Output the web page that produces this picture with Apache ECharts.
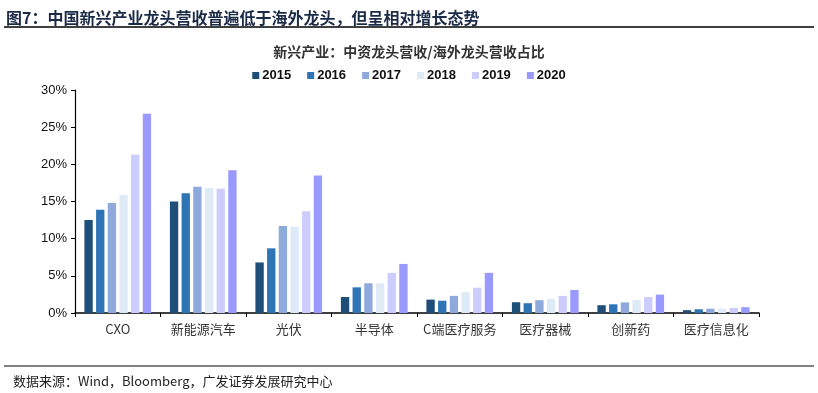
<!DOCTYPE html>
<html><head><meta charset="utf-8">
<script src="https://cdn.jsdelivr.net/npm/echarts@6/dist/echarts.min.js"></script>
<style>html,body{margin:0;padding:0;background:#fff}#c{width:818px;height:393px}</style>
</head><body><div id="c"></div>
<script>
const categories = ['CXO','新能源汽车','光伏','半导体','C端医疗服务','医疗器械','创新药','医疗信息化'];
const years = ['2015','2016','2017','2018','2019','2020'];
const v2015 = [12.5, 15.0, 6.8, 2.15, 1.8, 1.45, 1.05, 0.38];
const v2016 = [13.9, 16.1, 8.7, 3.45, 1.65, 1.32, 1.17, 0.5];
const v2017 = [14.8, 17.0, 11.7, 4.0, 2.3, 1.72, 1.43, 0.58];
const v2018 = [15.9, 16.8, 11.6, 4.0, 2.8, 1.9, 1.75, 0.58];
const v2019 = [21.3, 16.7, 13.7, 5.4, 3.4, 2.3, 2.15, 0.68];
const v2020 = [26.8, 19.2, 18.5, 6.6, 5.4, 3.1, 2.47, 0.78];
const yTicks = [0,5,10,15,20,25,30];
const seriesData = [v2015, v2016, v2017, v2018, v2019, v2020];
const colors = ['#1F4E79','#2E75B6','#8EA9DB','#DEEAF6','#CCCCFF','#9999FF'];

const chart = echarts.init(document.getElementById('c'));
chart.setOption({
  animation: false,
  color: colors,
  title: [
    { text: '图7：中国新兴产业龙头营收普遍低于海外龙头，但呈相对增长态势', left: 1, top: 5,
      textStyle: { fontFamily: 'Noto Sans CJK SC', fontWeight: 'bold', fontSize: 16, color: '#1B2A47' } },
    { text: '新兴产业：中资龙头营收/海外龙头营收占比', left: 'center', top: 40,
      textStyle: { fontFamily: 'Noto Sans CJK SC', fontWeight: 'bold', fontSize: 14, color: '#333' } },
    { text: '数据来源：Wind，Bloomberg，广发证券发展研究中心', left: 8, top: 370,
      textStyle: { fontFamily: 'Noto Sans CJK SC', fontWeight: 'normal', fontSize: 13, color: '#222' } }
  ],
  legend: {
    top: 64, left: 'center', itemWidth: 7, itemHeight: 7, itemGap: 16,
    icon: 'rect',
    textStyle: { fontFamily: 'Liberation Sans', fontWeight: 'bold', fontSize: 13, color: '#111', padding: [0,0,0,-2] },
    data: years
  },
  grid: { left: 75, right: 59, top: 90, bottom: 80, containLabel: false },
  xAxis: {
    type: 'category', data: categories,
    axisLine: { lineStyle: { color: '#000', width: 1.5 } },
    axisTick: { show: true, length: 4, lineStyle: { color: '#000' } },
    axisLabel: { interval: 0, margin: 10, fontFamily: 'Noto Sans CJK SC', fontSize: 13, color: '#333' },
    splitLine: { show: false }
  },
  yAxis: {
    type: 'value', min: 0, max: 30, interval: 5,
    axisLine: { show: true, lineStyle: { color: '#000', width: 1.2 } },
    axisTick: { show: true, length: 4, inside: false, lineStyle: { color: '#000' } },
    axisLabel: { margin: 8, fontFamily: 'Liberation Sans', fontSize: 13, color: '#111', formatter: v => v + '%' },
    splitLine: { show: false }
  },
  series: seriesData.map((d, i) => ({
    name: years[i], type: 'bar', data: d,
    barGap: '40%', barCategoryGap: '22%',
    itemStyle: { color: colors[i] }
  })),
  graphic: [
    { type: 'line', shape: { x1: 4, y1: 27, x2: 814, y2: 27 }, style: { stroke: '#000', lineWidth: 1.5 } },
    { type: 'line', shape: { x1: 4, y1: 366, x2: 814, y2: 366 }, style: { stroke: '#000', lineWidth: 1 } }
  ]
});
</script></body></html>
